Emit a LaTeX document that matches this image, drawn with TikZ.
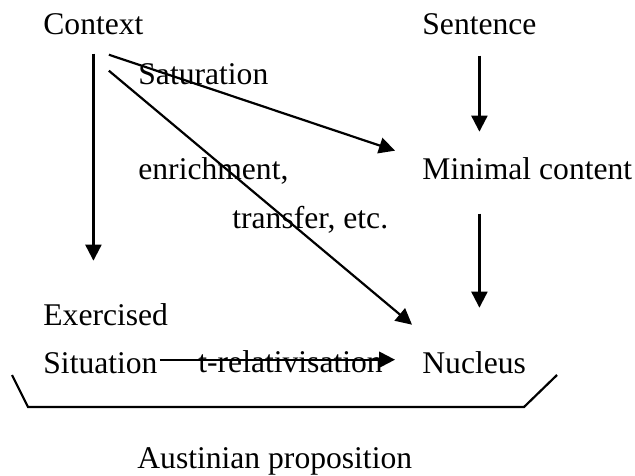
\documentclass[tikz,border=0pt]{standalone}
\usepackage{fontspec}
\setmainfont{Liberation Serif}
\usetikzlibrary{arrows.meta}
\begin{document}
\begin{tikzpicture}[x=0.5pt,y=-0.5pt,
        lbl/.style={anchor=base west,inner sep=0pt,font=\fontsize{15.8}{18}\selectfont},
        arr/.style={-{Triangle[length=8pt,width=8pt]},line width=1.1pt}]
        \useasboundingbox (0,0) rectangle (635,475);
        \node[lbl] (ctx) at (43,35) {Context};
        \node[lbl] (sen) at (422,35) {Sentence};
        \node[lbl] (sat) at (138,85) {Saturation};
        \node[lbl] (enr) at (138,180) {enrichment,};
        \node[lbl] (min) at (422,180) {Minimal content};
        \node[lbl] (trf) at (232,228) {transfer, etc.};
        \node[lbl] (exer) at (43,325) {Exercised};
        \node[lbl] (sit) at (43,373) {Situation};
        \node[lbl] (trel) at (198,372) {t-relativisation};
        \node[lbl] (nuc) at (422,373) {Nucleus};
        \node[lbl] (aus) at (137,468) {Austinian proposition};
        % arrows
        \draw[arr] ([yshift=-9pt]ctx.south) -- ([yshift=21pt]ctx.south |- exer.north);
        \draw[arr] ([xshift=-17.5pt,yshift=-9.5pt]ctx.south east) -- ([xshift=-13.5pt,yshift=3.5pt]min.north west);
        \draw[arr] ([xshift=-17.5pt,yshift=-17.5pt]ctx.south east) -- ([xshift=-5pt,yshift=13pt]nuc.north west);
        \draw[arr] ([yshift=-10pt]sen.south) -- ([yshift=13pt]sen.south |- min.north);
        \draw[arr] ([yshift=-16.5pt]sen.south |- min.south) -- ([yshift=21.5pt]sen.south |- nuc.north);
        \draw[arr] ([xshift=1pt,yshift=1.5pt]sit.east) -- ([xshift=-13.5pt,yshift=1.5pt]sit.east -| nuc.west);
        % bracket
        \draw[line width=1.1pt] (12,375) -- (28,407) -- (524,407) -- (557,375);
    \end{tikzpicture}
\end{document}
